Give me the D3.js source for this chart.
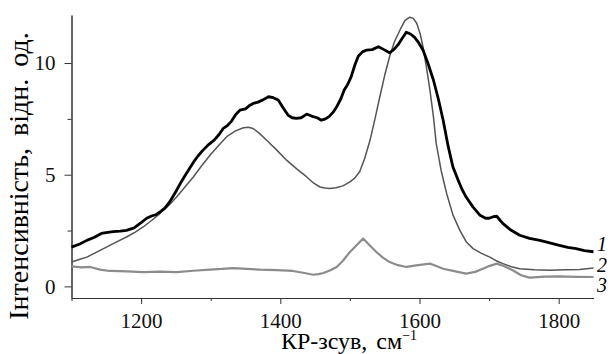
<!DOCTYPE html>
<html>
<head>
<meta charset="utf-8">
<script src="https://cdn.jsdelivr.net/npm/d3@7"></script>
<style>
  body { margin: 0; background: #fff; }
  svg { display: block; }
  .tick line, .domain { stroke: #333; }
</style>
</head>
<body>
<svg id="chart"></svg>
<script>
// Raman spectra, [shift cm-1, intensity]
const curve1 = [
  [1100,1.76],[1112,1.9],[1122,2.06],[1133,2.2],[1143,2.37],[1152,2.42],[1160,2.45],[1170,2.47],
  [1179,2.51],[1190,2.62],[1201,2.88],[1208,3.05],[1215,3.15],[1222,3.22],[1227,3.33],[1234,3.5],
  [1241,3.78],[1250,4.25],[1258,4.7],[1265,5.05],[1275,5.55],[1282,5.85],[1289,6.1],[1297,6.35],
  [1305,6.55],[1312,6.8],[1318,7.07],[1324,7.2],[1330,7.4],[1336,7.7],[1342,7.89],[1350,7.95],
  [1356,8.1],[1361,8.19],[1368,8.25],[1375,8.35],[1383,8.49],[1390,8.45],[1397,8.34],[1404,8.0],
  [1411,7.67],[1417,7.55],[1423,7.52],[1430,7.55],[1438,7.71],[1443,7.65],[1447,7.6],[1453,7.55],
  [1459,7.44],[1465,7.5],[1470,7.6],[1476,7.8],[1481,8.04],[1487,8.4],[1492,8.8],[1497,9.05],
  [1502,9.4],[1507,9.9],[1512,10.3],[1518,10.5],[1524,10.58],[1532,10.6],[1541,10.73],[1549,10.6],
  [1557,10.46],[1563,10.6],[1569,10.81],[1575,11.1],[1581,11.38],[1587,11.3],[1593,11.15],[1599,10.9],
  [1605,10.58],[1612,10.0],[1620,9.24],[1627,8.4],[1634,7.44],[1641,6.3],[1648,5.35],[1655,4.8],
  [1661,4.35],[1667,4.0],[1677,3.55],[1687,3.18],[1695,3.05],[1700,3.05],[1706,3.12],[1711,3.14],
  [1716,2.95],[1720,2.81],[1730,2.55],[1744,2.29],[1758,2.15],[1773,2.06],[1787,1.95],[1801,1.84],
  [1813,1.75],[1825,1.69],[1837,1.6],[1850,1.55]
];
const curve2 = [
  [1100,1.09],[1111,1.2],[1122,1.31],[1134,1.5],[1146,1.69],[1162,1.95],[1179,2.21],[1191,2.42],
  [1203,2.66],[1215,2.95],[1227,3.26],[1239,3.6],[1251,4.0],[1263,4.45],[1275,4.9],[1287,5.4],
  [1299,5.87],[1311,6.3],[1323,6.7],[1335,6.95],[1347,7.1],[1354,7.12],[1361,7.07],[1370,6.85],
  [1380,6.55],[1395,6.1],[1409,5.65],[1424,5.25],[1438,4.9],[1448,4.62],[1457,4.45],[1464,4.4],
  [1471,4.38],[1480,4.42],[1490,4.5],[1500,4.68],[1507,4.85],[1514,5.13],[1521,5.7],[1529,6.55],
  [1536,7.5],[1543,8.49],[1550,9.45],[1557,10.28],[1564,10.95],[1572,11.48],[1579,11.9],[1586,12.05],
  [1591,12.0],[1596,11.78],[1601,11.3],[1605,10.73],[1610,9.8],[1615,8.79],[1620,7.6],[1624,6.4],
  [1631,5.2],[1639,4.16],[1648,3.2],[1658,2.51],[1667,2.0],[1677,1.69],[1689,1.48],[1701,1.31],
  [1710,1.15],[1720,1.02],[1732,0.88],[1744,0.79],[1765,0.74],[1787,0.72],[1810,0.74],[1830,0.76],
  [1850,0.82]
];
const curve3 = [
  [1100,0.9],[1114,0.85],[1127,0.87],[1141,0.75],[1155,0.69],[1180,0.67],[1203,0.64],[1227,0.66],
  [1251,0.64],[1275,0.7],[1299,0.75],[1316,0.78],[1332,0.82],[1352,0.78],[1371,0.75],[1395,0.73],
  [1418,0.69],[1435,0.6],[1447,0.52],[1455,0.55],[1462,0.6],[1472,0.72],[1481,0.87],[1490,1.15],
  [1500,1.54],[1510,1.85],[1519,2.14],[1528,1.85],[1538,1.54],[1547,1.3],[1557,1.09],[1569,0.95],
  [1581,0.87],[1598,0.95],[1615,1.02],[1625,0.9],[1634,0.79],[1650,0.68],[1667,0.57],[1680,0.65],
  [1691,0.79],[1701,0.92],[1711,1.02],[1722,0.9],[1734,0.72],[1746,0.5],[1758,0.39],[1780,0.44],
  [1801,0.45],[1825,0.43],[1850,0.42]
];
const seriesLabels = ['1', '2', '3'];
const labelAt = [1.88, 0.94, 0.04];
const xMajor = [1200, 1400, 1600, 1800];
const xMinor = [1100, 1300, 1500, 1700];
const yMajor = [0, 5, 10];
const yMinor = [2.5, 7.5];

const width = 611, height = 354;
const serif = 'Liberation Serif';

const svg = d3.select('#chart')
  .attr('width', width)
  .attr('height', height);

const x = d3.scaleLinear().domain([1100, 1850]).range([71.5, 593.5]);
const y = d3.scaleLinear().domain([-0.52, 12.15]).range([298, 15]);

// axes
svg.append('g')
  .attr('transform', 'translate(0,298)')
  .call(d3.axisBottom(x).tickValues(xMinor).tickSize(3).tickSizeOuter(0).tickFormat(''));
svg.append('g')
  .attr('transform', 'translate(0,298)')
  .call(d3.axisBottom(x).tickValues(xMajor).tickSize(6).tickSizeOuter(0).tickPadding(9).tickFormat(d3.format('d')));

svg.append('g')
  .attr('transform', 'translate(71.5,0)')
  .call(d3.axisLeft(y).tickValues(yMinor).tickSize(4).tickSizeOuter(0).tickFormat(''));
svg.append('g')
  .attr('transform', 'translate(71.5,0)')
  .call(d3.axisLeft(y).tickValues(yMajor).tickSize(7).tickSizeOuter(0).tickPadding(9));

svg.selectAll('g')
  .attr('font-family', serif)
  .attr('font-size', 21);
svg.selectAll('.tick text').attr('fill', '#111');

// spectra
const line = d3.line().x(d => x(d[0])).y(d => y(d[1]));
const styles = [
  { data: curve3, color: '#8c8c8c', w: 2.2 },
  { data: curve2, color: '#555', w: 1.5 },
  { data: curve1, color: '#000', w: 2.8 }
];
styles.forEach(s => {
  svg.append('path')
    .datum(s.data)
    .attr('d', line)
    .style('fill', 'none')
    .style('stroke', s.color)
    .style('stroke-width', s.w)
    .style('stroke-linejoin', 'round');
});

// curve numbers
seriesLabels.forEach((t, i) => {
  svg.append('text')
    .attr('x', 597)
    .attr('y', y(labelAt[i]))
    .attr('dy', '0.35em')
    .attr('font-family', serif)
    .attr('font-style', 'italic')
    .attr('font-size', 20)
    .text(t);
});

// axis titles
const xt = svg.append('text')
  .attr('x', 349)
  .attr('y', 349)
  .attr('text-anchor', 'middle')
  .attr('font-family', serif)
  .attr('font-size', 24)
  .attr('word-spacing', 3);
xt.append('tspan').text('КР-зсув, см');
xt.append('tspan').attr('dy', -9).attr('font-size', 14).text('−1');

svg.append('text')
  .attr('transform', 'translate(28,176) rotate(-90)')
  .attr('text-anchor', 'middle')
  .attr('font-family', serif)
  .attr('font-size', 28)
  .attr('word-spacing', 5)
  .text('Інтенсивність, відн. од.');
</script>
</body>
</html>
